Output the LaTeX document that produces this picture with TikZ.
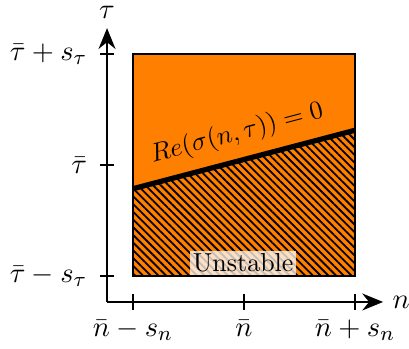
\documentclass[tikz,border=0pt]{standalone}
\usepackage{amsmath}
\usepackage{tikz}
\usetikzlibrary{arrows.meta,positioning,patterns.meta}
\definecolor{regionorange}{HTML}{FF8000}

\begin{document}
\begin{tikzpicture}[
  axisline/.style={line width=0.9pt, -{Stealth[length=8pt,width=6.5pt]}},
  tickmark/.style={line width=0.6pt},
  ticklabel/.style={font=\fontsize{11}{13}\selectfont, inner sep=1.5pt}
]
\useasboundingbox (-1.446,-0.635) rectangle (4.08,4.08);
% parameter box
\coordinate (boxsw) at (0.35,0.35);
\coordinate (boxse) at (3.35,0.35);
\coordinate (boxne) at (3.35,3.35);
\coordinate (critleft) at (0.35,1.53);
\coordinate (critright) at (3.35,2.32);
\fill[regionorange] (boxsw) rectangle (boxne);
\fill[pattern={Lines[angle=-45,distance=2.1pt,line width=0.7pt]}, pattern color=black]
  (boxsw) -- (boxse) -- (critright) -- (critleft) -- cycle;
\draw[line width=0.5pt] (boxsw) rectangle (boxne);
\draw[line width=2pt] (critleft) -- node[midway, above=1pt, sloped] (critlabel) {$Re(\sigma(n,\tau))=0$} (critright);
\node[fill=white, fill opacity=0.75, text opacity=1, inner sep=1pt] (unstable) at (1.84,0.53) {Unstable};
% axes
\coordinate (origin) at (0,0);
\coordinate (xtip) at (3.73,0);
\coordinate (ytip) at (0,3.70);
\draw[axisline] (origin) -- (xtip);
\draw[axisline] (origin) -- (ytip);
\node[right=2pt, ticklabel] (nlabel) at (xtip) {$n$};
\node[above=2pt, ticklabel] (taulabel) at (ytip) {$\tau$};
\foreach \x/\lab [count=\i] in {0.35/{\bar{n}-s_n}, 1.85/{\bar{n}}, 3.35/{\bar{n}+s_n}} {
  \draw[tickmark] (\x,0.11) -- (\x,-0.11) node[below=2pt, ticklabel] (xtick\i) {$\lab$};
}
\foreach \y/\lab [count=\i] in {0.35/{\bar{\tau}-s_\tau}, 1.85/{\bar{\tau}}, 3.35/{\bar{\tau}+s_\tau}} {
  \draw[tickmark] (0.1,\y) -- (-0.1,\y) node[left=3pt, ticklabel] (ytick\i) {$\lab$};
}
\end{tikzpicture}
\end{document}
